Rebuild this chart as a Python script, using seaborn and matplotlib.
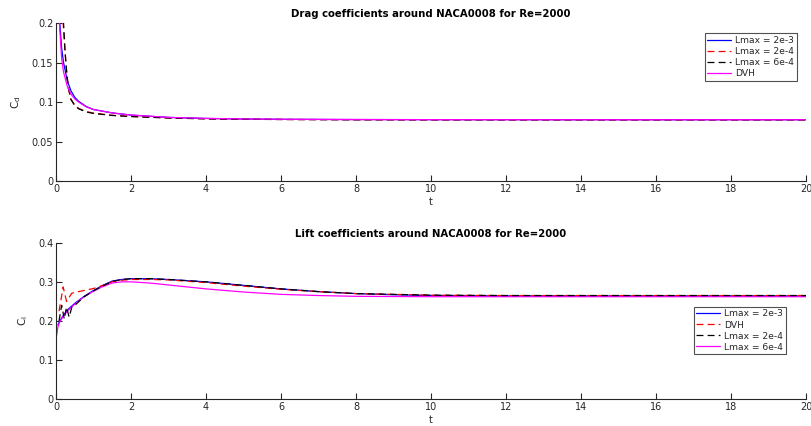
import matplotlib
matplotlib.use("Agg")
import matplotlib.pyplot as plt
import seaborn as sns

# ---- Drag coefficient data ----
t_cd_2e3 = [0.08, 0.1, 0.15, 0.2, 0.3, 0.4, 0.5, 0.6, 0.8, 1.0, 1.5, 2.0, 3.0, 4.0, 5.0, 6.0, 8.0, 10.0, 14.0, 20.0]
cd_2e3 = [0.23, 0.2, 0.168, 0.15, 0.127, 0.114, 0.106, 0.101, 0.0945, 0.0905, 0.0862, 0.0835, 0.0805, 0.0792, 0.0785, 0.0781, 0.0778, 0.0777, 0.0776, 0.0776]

t_cd_2e4 = [0.15, 0.19, 0.23, 0.27, 0.32, 0.39, 0.5, 0.6, 0.8, 1.0, 1.5, 2.0, 3.0, 4.0, 5.0, 6.0, 8.0, 10.0, 14.0, 20.0]
cd_2e4 = [0.25, 0.2, 0.17, 0.145, 0.12, 0.104, 0.096, 0.092, 0.088, 0.086, 0.0832, 0.0818, 0.0799, 0.0788, 0.0782, 0.0779, 0.0776, 0.0775, 0.0775, 0.0775]

t_cd_6e4 = [0.16, 0.2, 0.24, 0.28, 0.33, 0.4, 0.5, 0.6, 0.8, 1.0, 1.5, 2.0, 3.0, 4.0, 5.0, 6.0, 8.0, 10.0, 14.0, 20.0]
cd_6e4 = [0.25, 0.2, 0.165, 0.14, 0.118, 0.103, 0.0955, 0.0915, 0.0875, 0.0855, 0.083, 0.0816, 0.0798, 0.0787, 0.0782, 0.0779, 0.0776, 0.0775, 0.0775, 0.0775]

t_cd_dvh = [0.04, 0.09, 0.15, 0.2, 0.3, 0.4, 0.5, 0.6, 0.8, 1.0, 1.5, 2.0, 3.0, 4.0, 5.0, 6.0, 8.0, 10.0, 14.0, 20.0]
cd_dvh = [0.25, 0.2, 0.155, 0.138, 0.12, 0.11, 0.104, 0.1, 0.094, 0.0905, 0.0862, 0.0835, 0.0806, 0.0793, 0.0786, 0.0782, 0.0779, 0.0777, 0.0776, 0.0776]

# ---- Lift coefficient data ----
t_cl_blue = [0.05, 0.1, 0.2, 0.3, 0.5, 0.75, 1.0, 1.25, 1.5, 1.75, 2.0, 2.5, 3.0, 4.0, 5.0, 6.0, 7.0, 8.0, 9.0, 10.0, 12.0, 15.0, 20.0]
cl_blue = [0.19, 0.2, 0.215, 0.228, 0.245, 0.263, 0.278, 0.291, 0.302, 0.306, 0.308, 0.308, 0.306, 0.3, 0.291, 0.282, 0.275, 0.27, 0.267, 0.265, 0.264, 0.264, 0.264]

t_cl_red = [0.08, 0.19, 0.28, 0.42, 0.6, 0.8, 1.0, 1.25, 1.5, 1.75, 2.0, 2.5, 3.0, 4.0, 5.0, 6.0, 7.0, 8.0, 10.0, 12.0, 15.0, 20.0]
cl_red = [0.225, 0.287, 0.25, 0.271, 0.275, 0.279, 0.283, 0.291, 0.3, 0.304, 0.306, 0.306, 0.305, 0.298, 0.289, 0.281, 0.275, 0.27, 0.266, 0.265, 0.265, 0.265]

t_cl_black = [0.08, 0.15, 0.22, 0.28, 0.35, 0.42, 0.5, 0.75, 1.0, 1.25, 1.5, 1.75, 2.0, 2.5, 3.0, 4.0, 5.0, 6.0, 7.0, 8.0, 10.0, 12.0, 15.0, 20.0]
cl_black = [0.2, 0.24, 0.205, 0.235, 0.21, 0.235, 0.24, 0.262, 0.277, 0.29, 0.301, 0.306, 0.308, 0.308, 0.306, 0.3, 0.291, 0.282, 0.275, 0.27, 0.266, 0.265, 0.265, 0.265]

t_cl_mag = [0.0, 0.01, 0.05, 0.1, 0.2, 0.3, 0.5, 0.75, 1.0, 1.25, 1.5, 1.75, 2.0, 2.5, 3.0, 4.0, 5.0, 6.0, 7.0, 8.0, 10.0, 12.0, 15.0, 20.0]
cl_mag = [0.4, 0.16, 0.185, 0.198, 0.213, 0.225, 0.243, 0.262, 0.276, 0.288, 0.297, 0.3, 0.3, 0.297, 0.292, 0.282, 0.274, 0.268, 0.265, 0.263, 0.262, 0.262, 0.262, 0.262]

x_ticks = [0, 2, 4, 6, 8, 10, 12, 14, 16, 18, 20]
cd_ticks = [0, 0.05, 0.1, 0.15, 0.2]
cd_ticklabels = ["0", "0.05", "0.1", "0.15", "0.2"]
cl_ticks = [0, 0.1, 0.2, 0.3, 0.4]
cl_ticklabels = ["0", "0.1", "0.2", "0.3", "0.4"]

sns.set_style("ticks")
plt.rcParams["font.family"] = ["DejaVu Sans"]
plt.rcParams["lines.scale_dashes"] = False

gray = "#262626"
fig = plt.figure(figsize=(8.12, 4.26), dpi=100)
ax1 = fig.add_axes([0.069, 0.575, 0.9236, 0.371])
ax2 = fig.add_axes([0.069, 0.0627, 0.9236, 0.3676])

lw = 0.9
dash_seq = (5, 3)


def draw(ax, x, y, color, label, dashed=False):
    sns.lineplot(x=x, y=y, ax=ax, color=color, lw=lw, label=label, sort=False)
    line = ax.lines[-1]
    if dashed:
        line.set_dashes(dash_seq)
    return line


draw(ax1, t_cd_2e3, cd_2e3, "#0000ff", "Lmax = 2e-3")
draw(ax1, t_cd_2e4, cd_2e4, "#ff0000", "Lmax = 2e-4", dashed=True)
draw(ax1, t_cd_6e4, cd_6e4, "#000000", "Lmax = 6e-4", dashed=True)
draw(ax1, t_cd_dvh, cd_dvh, "#ff00ff", "DVH")

hb = draw(ax2, t_cl_blue, cl_blue, "#0000ff", "Lmax = 2e-3")
hr = draw(ax2, t_cl_red, cl_red, "#ff0000", "DVH", dashed=True)
hm = draw(ax2, t_cl_mag, cl_mag, "#ff00ff", "Lmax = 6e-4")
hk = draw(ax2, t_cl_black, cl_black, "#000000", "Lmax = 2e-4", dashed=True)

fs = 7
for ax, yt, ytl, yl, title in [
    (ax1, cd_ticks, cd_ticklabels, r"C$_\mathrm{d}$", "Drag coefficients around NACA0008 for Re=2000"),
    (ax2, cl_ticks, cl_ticklabels, r"C$_\mathrm{l}$", "Lift coefficients around NACA0008 for Re=2000"),
]:
    ax.set_xlim(0, 20)
    ax.set_ylim(yt[0], yt[-1])
    ax.set_xticks(x_ticks)
    ax.set_xticklabels([str(v) for v in x_ticks])
    ax.set_yticks(yt)
    ax.set_yticklabels(ytl)
    ax.tick_params(direction="in", length=4, width=0.8, colors=gray, labelsize=fs, pad=2)
    for s in ["top", "right"]:
        ax.spines[s].set_visible(False)
    for s in ["left", "bottom"]:
        ax.spines[s].set_color(gray)
        ax.spines[s].set_linewidth(0.8)
    ax.set_xlabel("t", fontsize=fs, color=gray, labelpad=2)
    ax.set_ylabel(yl, fontsize=fs + 0.5, color=gray, labelpad=6)
    ax.set_title(title, fontsize=7.3, fontweight="bold", color="black", pad=4)

leg_kw = dict(fontsize=6.6, frameon=True, fancybox=False, edgecolor=gray,
              borderaxespad=0, handlelength=2.6, handletextpad=0.4,
              labelspacing=0.22, borderpad=0.3)
h1, lab1 = ax1.get_legend_handles_labels()
l1 = ax1.legend(h1, lab1, loc="upper right", bbox_to_anchor=(0.9876, 0.935), **leg_kw)
l2b = ax2.legend([hb, hr, hk, hm], ["Lmax = 2e-3", "DVH", "Lmax = 2e-4", "Lmax = 6e-4"],
                 loc="upper right", bbox_to_anchor=(0.973, 0.591), **leg_kw)
for lg in (l1, l2b):
    lg.get_frame().set_linewidth(0.8)

fig.savefig("out.png", dpi=100)
